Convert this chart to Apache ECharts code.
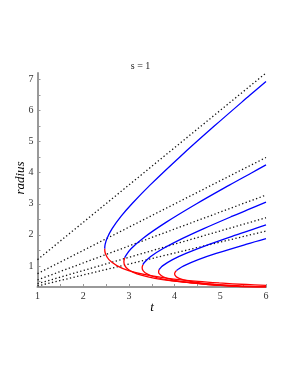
<!DOCTYPE html>
<html><head><meta charset="utf-8">
<script src="https://cdn.jsdelivr.net/npm/echarts@6/dist/echarts.min.js"></script>
<style>html,body{margin:0;padding:0;background:#fff}#c{width:289px;height:374px}</style>
</head><body><div id="c"></div>
<script>
// tick labels
const xTickLabels = [1, 2, 3, 4, 5, 6];
const yTickLabels = [1, 2, 3, 4, 5, 6, 7];
const xTickMarks = [1, 1.5, 2, 2.5, 3, 3.5, 4, 4.5, 5, 5.5, 6];
const yTickMarks = [0.5, 1, 1.5, 2, 2.5, 3, 3.5, 4, 4.5, 5, 5.5, 6, 6.5, 7];

// dotted asymptote lines [t, radius]
const asym1 = [[1, 1.2], [6, 7.21]];
const asym2 = [[1, 0.75], [6, 4.49]];
const asym3 = [[1, 0.547], [6, 3.28]];
const asym4 = [[1, 0.425], [6, 2.55]];
const asym5 = [[1, 0.353], [6, 2.12]];

// blue (upper) branches [t, radius]
const blue1 = [[2.47,1.555],[2.481,1.7],[2.525,1.9],[2.633,2.2],[2.831,2.6],[3.067,3.0],[3.462,3.6],[4.109,4.5],[4.868,5.5],[5.651,6.5],[6,6.94]];
const blue2 = [[2.908,1.26],[2.92,1.3],[3.046,1.55],[3.318,1.9],[3.811,2.4],[4.482,3.0],[5.198,3.6],[5.691,4.0],[6,4.25]];
const blue3 = [[3.307,1.04],[3.333,1.1],[3.477,1.3],[3.74,1.55],[4.198,1.9],[4.639,2.2],[5.266,2.6],[5.592,2.8],[6,3.05]];
const blue4 = [[3.663,0.88],[3.671,0.9],[3.736,1.0],[3.956,1.2],[4.249,1.4],[4.771,1.7],[5.351,2.0],[5.757,2.2],[6,2.32]];
const blue5 = [[4.043,0.85],[4.085,0.9],[4.2,1.0],[4.518,1.2],[4.91,1.4],[5.579,1.7],[6,1.877]];

// red (lower) branches [t, radius]
const red1 = [[2.47,1.555],[2.485,1.4],[2.563,1.2],[2.744,1.0],[2.994,0.85],[3.412,0.7],[3.853,0.6],[4.515,0.5],[4.976,0.45],[5.572,0.4],[6,0.37]];
const red2 = [[2.908,1.26],[2.89,1.132],[2.914,1.0],[2.974,0.9],[3.085,0.8],[3.27,0.7],[3.568,0.6],[4.049,0.5],[4.398,0.45],[4.856,0.4],[5.202,0.37],[5.472,0.35],[5.781,0.335],[6,0.335]];
const red3 = [[3.307,1.04],[3.29,0.943],[3.31,0.85],[3.385,0.75],[3.546,0.65],[3.839,0.55],[4.061,0.5],[4.356,0.45],[4.753,0.4],[5.058,0.37],[5.298,0.35],[5.574,0.335],[6,0.33]];
const red4 = [[3.663,0.88],[3.65,0.8125],[3.662,0.75],[3.75,0.65],[3.963,0.55],[4.141,0.5],[4.388,0.45],[4.73,0.4],[4.999,0.37],[5.212,0.35],[5.459,0.335],[6,0.325]];
const red5 = [[4.043,0.85],[4.013,0.8],[4.0,0.74],[4.036,0.65],[4.098,0.6],[4.196,0.55],[4.347,0.5],[4.565,0.45],[4.879,0.4],[5.128,0.37],[5.329,0.35],[5.564,0.335],[6,0.325]];

const asyms = [asym1, asym2, asym3, asym4, asym5];
const blues = [blue1, blue2, blue3, blue4, blue5];
const reds = [red1, red2, red3, red4, red5];

const serif = '"Liberation Serif","DejaVu Serif",serif';
const series = [];
asyms.forEach(d => series.push({
  type: 'line', data: d, showSymbol: false, silent: true, clip: false,
  lineStyle: { color: '#111', width: 1.3, type: [1.3, 2.4], cap: 'butt' }
}));
reds.forEach(d => series.push({
  type: 'line', data: d, showSymbol: false, silent: true, smooth: 0.35,
  lineStyle: { color: '#ff0000', width: 1.3 }
}));
blues.forEach(d => series.push({
  type: 'line', data: d, showSymbol: false, silent: true, smooth: 0.35,
  lineStyle: { color: '#0000ff', width: 1.3 }
}));

const chart = echarts.init(document.getElementById('c'), null, { renderer: 'canvas' });
chart.setOption({
  animation: false,
  backgroundColor: '#fff',
  grid: { left: 37.5, right: 23, top: 73, bottom: 87, containLabel: false },
  xAxis: {
    type: 'value', min: 1, max: 6,
    axisLine: { show: true, lineStyle: { color: '#999', width: 2 } },
    axisTick: { show: true, inside: true, length: 3, customValues: xTickMarks, lineStyle: { color: '#999', width: 1 } },
    axisLabel: { customValues: xTickLabels, color: '#333', fontFamily: serif, fontSize: 10, margin: 4 },
    splitLine: { show: false }
  },
  yAxis: {
    type: 'value', min: 0.32, max: 7.21,
    axisLine: { show: true, lineStyle: { color: '#999', width: 2 } },
    axisTick: { show: true, inside: true, length: 3, customValues: yTickMarks, lineStyle: { color: '#999', width: 1 } },
    axisLabel: { customValues: yTickLabels, color: '#333', fontFamily: serif, fontSize: 10, margin: 4 },
    splitLine: { show: false }
  },
  graphic: [
    { type: 'text', x: 140.5, y: 66, style: { text: 's = 1', font: '10px ' + serif, fill: '#222', textAlign: 'center', textVerticalAlign: 'middle' } },
    { type: 'text', x: 152, y: 308, style: { text: 't', font: 'italic 13px ' + serif, fill: '#000', textAlign: 'center', textVerticalAlign: 'middle' } },
    { type: 'text', x: 21, y: 178, rotation: Math.PI / 2, style: { text: 'radius', font: 'italic 13px ' + serif, fill: '#000', textAlign: 'center', textVerticalAlign: 'middle' } }
  ],
  series: series
});
</script>
</body></html>
